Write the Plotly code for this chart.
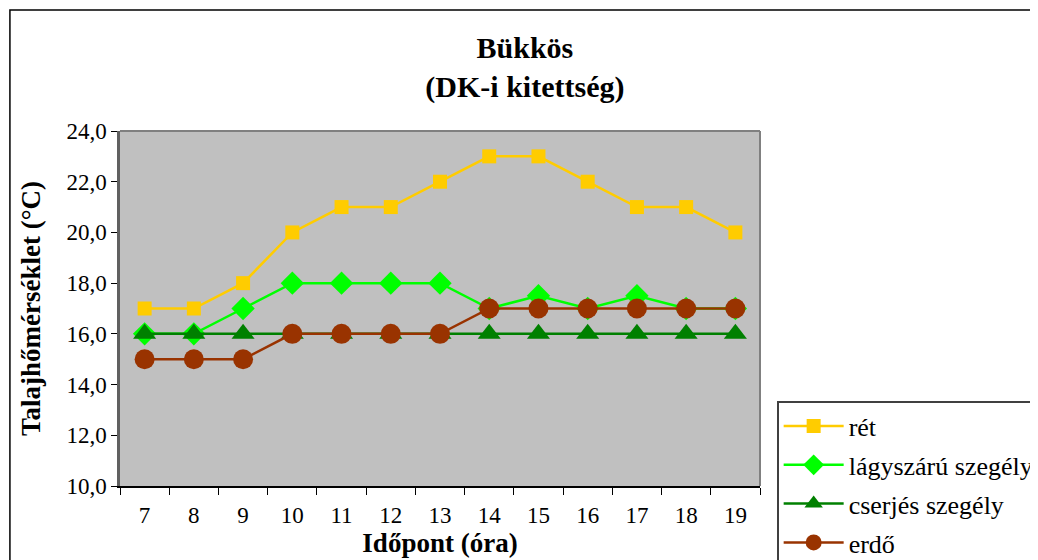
import plotly.graph_objects as go

# Időpontok (óra)
hours = ["7", "8", "9", "10", "11", "12", "13", "14", "15", "16", "17", "18", "19"]

# Talajhőmérséklet (°C)
ret = [17, 17, 18, 20, 21, 21, 22, 23, 23, 22, 21, 21, 20]
lagyszaru = [16, 16, 17, 18, 18, 18, 18, 17, 17.5, 17, 17.5, 17, 17]
cserjes = [16, 16, 16, 16, 16, 16, 16, 16, 16, 16, 16, 16, 16]
erdo = [15, 15, 15, 16, 16, 16, 16, 17, 17, 17, 17, 17, 17]

FONT = "Liberation Serif"

series = [
    ("rét", ret, "#FFCC00", "square", 14),
    ("lágyszárú szegély", lagyszaru, "#00FF00", "diamond", 18),
    ("cserjés szegély", cserjes, "#008000", "triangle-up", 20),
    ("erdő", erdo, "#993300", "circle", 20),
]

fig = go.Figure()
for name, vals, color, symbol, size in series:
    fig.add_trace(go.Scatter(
        x=hours, y=vals,
        mode="lines+markers",
        name=name,
        legendgroup=name,
        line=dict(color=color, width=2.5),
        marker=dict(symbol=symbol, size=size, color=color),
    ))

# külső keret
fig.add_shape(type="rect", xref="paper", yref="paper",
              x0=-0.172, x1=1.5, y0=-0.3, y1=1.341,
              line=dict(color="black", width=1.5), layer="below")

fig.update_layout(
    width=1038, height=560,
    margin=dict(l=112, r=286, t=123, b=82),
    paper_bgcolor="white",
    plot_bgcolor="#C0C0C0",
    separators=", ",
    font=dict(family=FONT, size=23, color="black"),
    title=dict(
        text="<b>Bükkös<br>(DK-i kitettség)</b>",
        x=0.498, xref="container", xanchor="center",
        y=0.91, yref="container", yanchor="top",
        font=dict(family=FONT, size=30),
    ),
    showlegend=True,
    legend=dict(
        xref="container", yref="container",
        x=0.741, xanchor="left", y=0.298, yanchor="top",
        bordercolor="#404040", borderwidth=1.5,
        bgcolor="white",
        font=dict(family=FONT, size=26),
        tracegroupgap=2,
        itemwidth=60,
    ),
)

fig.update_xaxes(
    type="category",
    range=[-0.5, len(hours) - 0.5],
    tickson="boundaries",
    ticks="outside", ticklen=7, tickcolor="black",
    ticklabelstandoff=8,
    showline=True, linecolor="black", linewidth=1.5,
    showgrid=False,
    title=dict(text="<b>Időpont (óra)</b>", font=dict(family=FONT, size=27), standoff=6),
    tickfont=dict(family=FONT, size=23),
)
fig.update_yaxes(
    range=[10, 24], dtick=2, tickformat=".1f",
    ticks="outside", ticklen=6, tickcolor="black",
    showline=True, linecolor="#606060", linewidth=2.5,
    showgrid=False, zeroline=False,
    title=dict(text="<b>Talajhőmérséklet (°C)</b>", font=dict(family=FONT, size=27), standoff=18),
    tickfont=dict(family=FONT, size=23),
)

# plot terület felső és jobb szegélye
fig.add_shape(type="line", xref="paper", yref="paper", x0=0, x1=1, y0=1, y1=1,
              line=dict(color="#808080", width=2))
fig.add_shape(type="line", xref="paper", yref="paper", x0=1, x1=1, y0=0, y1=1,
              line=dict(color="#808080", width=2))

fig.write_html("out.html")
